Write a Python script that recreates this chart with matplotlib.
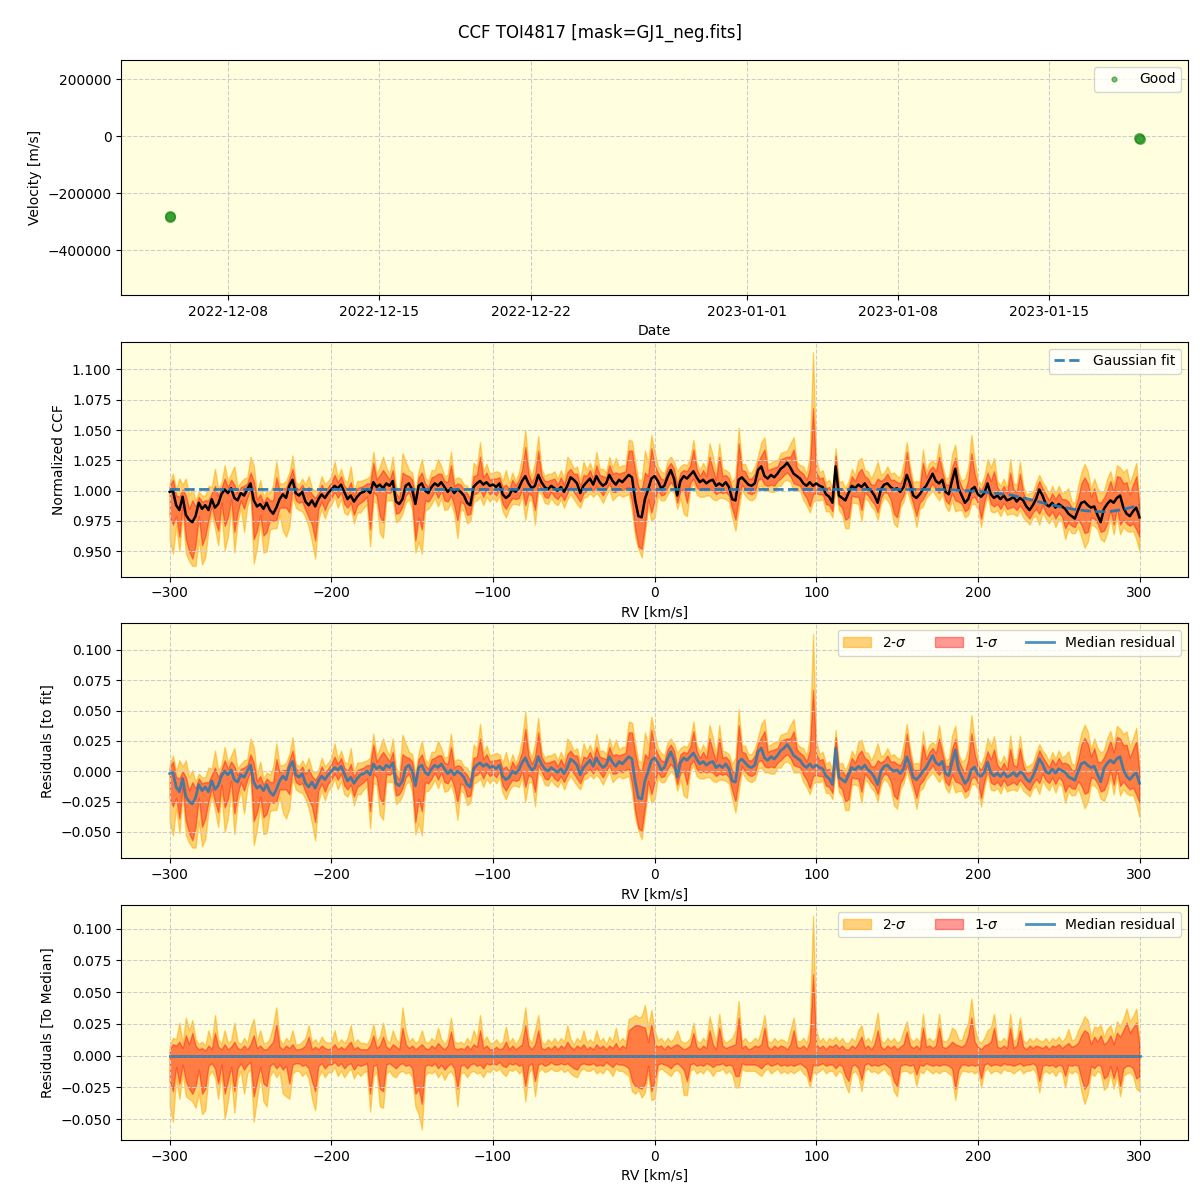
import numpy as np
import pandas as pd
import matplotlib
matplotlib.use("Agg")
import matplotlib.pyplot as plt

# observation epochs for the top panel
obs_dates = ["2022-12-05 07:00", "2022-12-05 07:20", "2023-01-19 04:00", "2023-01-19 04:20"]
obs_velocity = [-279500, -283000, -6000, -8000]

# CCF grid, km/s
rv_start, rv_stop, rv_step = -300, 300, 2

# median CCF across exposures
ccf_median = [
    0.999, 1.000, 0.988, 0.984, 0.995, 0.980, 0.976, 0.974, 0.979, 0.990,
    0.985, 0.988, 0.984, 0.993, 0.986, 0.989, 0.997, 1.001, 0.998, 1.002,
    0.994, 0.992, 0.998, 0.996, 1.001, 1.006, 0.992, 0.987, 0.989, 0.985,
    0.990, 0.984, 0.981, 0.986, 0.993, 0.997, 0.994, 1.004, 1.009, 0.998,
    0.996, 0.999, 0.991, 0.988, 0.992, 0.987, 0.993, 0.997, 0.994, 0.998,
    1.001, 1.004, 1.002, 1.005, 0.999, 0.993, 0.996, 0.991, 0.995, 0.998,
    0.999, 1.001, 0.998, 1.007, 1.003, 1.005, 1.002, 1.006, 1.004, 1.008,
    0.991, 0.989, 0.993, 1.004, 1.006, 1.001, 0.989, 1.004, 1.006, 1.000,
    0.998, 1.003, 1.006, 1.004, 1.007, 1.003, 0.999, 1.002, 0.998, 1.001,
    0.999, 0.996, 0.990, 0.988, 1.003, 1.006, 1.008, 1.005, 1.007, 1.004,
    1.005, 1.003, 1.006, 0.997, 0.994, 0.996, 1.001, 0.999, 1.002, 1.008,
    1.012, 1.006, 1.002, 1.004, 1.013, 1.007, 1.003, 1.001, 1.004, 1.002,
    1.000, 1.003, 0.999, 1.004, 1.011, 1.009, 1.006, 0.998, 1.004, 1.007,
    1.010, 1.005, 1.012, 1.007, 1.004, 1.006, 1.013, 1.008, 1.005, 1.009,
    1.007, 1.010, 1.013, 1.011, 0.992, 0.979, 0.978, 0.993, 1.001, 1.010,
    1.012, 1.008, 1.002, 1.004, 1.011, 1.017, 1.010, 0.996, 1.008, 1.012,
    1.010, 1.013, 1.016, 1.011, 1.007, 1.009, 1.006, 1.008, 1.009, 1.004,
    1.006, 1.004, 1.007, 1.003, 0.993, 0.992, 1.009, 1.011, 1.008, 1.005,
    1.004, 1.006, 1.017, 1.020, 1.012, 1.010, 1.013, 1.011, 1.014, 1.018,
    1.020, 1.023, 1.019, 1.014, 1.012, 1.010, 1.006, 1.004, 1.007, 1.004,
    1.006, 1.004, 1.003, 0.997, 0.995, 0.990, 1.020, 0.996, 0.994, 0.992,
    0.998, 1.004, 1.002, 1.005, 1.003, 1.006, 1.002, 1.000, 0.996, 0.990,
    1.001, 1.005, 1.006, 1.003, 1.001, 1.002, 0.999, 1.003, 1.013, 1.006,
    0.996, 0.994, 0.997, 1.001, 1.004, 1.009, 1.014, 1.008, 1.006, 1.009,
    0.999, 0.997, 1.008, 1.018, 1.002, 0.996, 0.990, 0.993, 1.001, 1.003,
    0.997, 0.995, 0.998, 1.006, 0.997, 0.994, 0.996, 0.993, 0.996, 0.992,
    0.993, 0.995, 0.991, 0.994, 0.992, 0.987, 0.984, 0.988, 0.993, 1.001,
    0.996, 0.989, 0.987, 0.990, 0.986, 0.989, 0.987, 0.985, 0.981, 0.979,
    0.977, 0.984, 0.990, 0.991, 0.988, 0.986, 0.987, 0.980, 0.974, 0.985,
    0.989, 0.992, 0.990, 0.994, 0.996, 0.986, 0.981, 0.979, 0.983, 0.986,
    0.978,
]

# distance of the percentile bands from the median
upper_1sig = [
    0.005, 0.009, 0.008, 0.011, 0.006, 0.016, 0.009, 0.018, 0.008, 0.005,
    0.006, 0.004, 0.008, 0.005, 0.018, 0.007, 0.005, 0.009, 0.005, 0.007,
    0.011, 0.006, 0.005, 0.008, 0.005, 0.009, 0.016, 0.006, 0.008, 0.005,
    0.005, 0.008, 0.011, 0.025, 0.007, 0.005, 0.008, 0.006, 0.009, 0.005,
    0.005, 0.006, 0.008, 0.015, 0.005, 0.007, 0.005, 0.008, 0.006, 0.005,
    0.006, 0.009, 0.005, 0.007, 0.005, 0.008, 0.011, 0.005, 0.007, 0.005,
    0.005, 0.005, 0.008, 0.016, 0.006, 0.008, 0.015, 0.007, 0.005, 0.009,
    0.007, 0.005, 0.022, 0.009, 0.006, 0.008, 0.005, 0.007, 0.009, 0.006,
    0.005, 0.008, 0.006, 0.010, 0.007, 0.005, 0.008, 0.019, 0.006, 0.005,
    0.006, 0.005, 0.008, 0.005, 0.009, 0.007, 0.020, 0.006, 0.008, 0.005,
    0.005, 0.007, 0.005, 0.006, 0.011, 0.005, 0.008, 0.005, 0.007, 0.009,
    0.024, 0.008, 0.005, 0.009, 0.020, 0.006, 0.005, 0.007, 0.005, 0.008,
    0.005, 0.008, 0.006, 0.011, 0.007, 0.005, 0.008, 0.006, 0.009, 0.005,
    0.007, 0.005, 0.009, 0.006, 0.008, 0.005, 0.008, 0.006, 0.010, 0.005,
    0.008, 0.006, 0.020, 0.022, 0.024, 0.024, 0.023, 0.022, 0.011, 0.025,
    0.009, 0.007, 0.008, 0.005, 0.008, 0.006, 0.008, 0.009, 0.007, 0.005,
    0.006, 0.008, 0.018, 0.007, 0.005, 0.008, 0.006, 0.020, 0.009, 0.005,
    0.022, 0.008, 0.006, 0.007, 0.008, 0.009, 0.030, 0.006, 0.008, 0.005,
    0.006, 0.008, 0.007, 0.009, 0.022, 0.007, 0.005, 0.008, 0.006, 0.008,
    0.007, 0.005, 0.009, 0.020, 0.007, 0.006, 0.008, 0.005, 0.011, 0.064,
    0.009, 0.006, 0.008, 0.005, 0.008, 0.007, 0.009, 0.006, 0.008, 0.005,
    0.005, 0.008, 0.006, 0.010, 0.015, 0.006, 0.008, 0.005, 0.009, 0.020,
    0.007, 0.005, 0.008, 0.006, 0.008, 0.005, 0.007, 0.009, 0.019, 0.008,
    0.006, 0.008, 0.005, 0.022, 0.007, 0.008, 0.006, 0.008, 0.022, 0.007,
    0.006, 0.008, 0.011, 0.009, 0.008, 0.007, 0.009, 0.016, 0.030, 0.011,
    0.007, 0.005, 0.008, 0.009, 0.011, 0.022, 0.007, 0.006, 0.008, 0.006,
    0.022, 0.006, 0.008, 0.020, 0.007, 0.005, 0.008, 0.006, 0.008, 0.007,
    0.006, 0.008, 0.005, 0.008, 0.007, 0.009, 0.006, 0.008, 0.010, 0.007,
    0.008, 0.010, 0.016, 0.020, 0.018, 0.009, 0.015, 0.011, 0.016, 0.009,
    0.011, 0.016, 0.009, 0.018, 0.015, 0.020, 0.026, 0.018, 0.022, 0.026,
    0.008,
]

upper_2sig = [
    0.008, 0.014, 0.013, 0.026, 0.010, 0.030, 0.020, 0.028, 0.013, 0.009,
    0.011, 0.008, 0.020, 0.010, 0.032, 0.013, 0.009, 0.020, 0.010, 0.012,
    0.026, 0.011, 0.009, 0.014, 0.010, 0.022, 0.029, 0.011, 0.020, 0.010,
    0.010, 0.014, 0.024, 0.038, 0.013, 0.009, 0.014, 0.011, 0.020, 0.009,
    0.009, 0.011, 0.014, 0.024, 0.010, 0.013, 0.009, 0.015, 0.011, 0.010,
    0.011, 0.020, 0.009, 0.013, 0.010, 0.014, 0.024, 0.009, 0.013, 0.010,
    0.010, 0.009, 0.014, 0.025, 0.011, 0.015, 0.026, 0.013, 0.010, 0.020,
    0.013, 0.010, 0.038, 0.020, 0.011, 0.014, 0.010, 0.012, 0.020, 0.011,
    0.010, 0.014, 0.011, 0.022, 0.013, 0.009, 0.014, 0.030, 0.011, 0.010,
    0.011, 0.009, 0.014, 0.010, 0.020, 0.013, 0.032, 0.011, 0.015, 0.010,
    0.010, 0.013, 0.009, 0.011, 0.023, 0.010, 0.014, 0.009, 0.013, 0.020,
    0.038, 0.014, 0.010, 0.020, 0.032, 0.011, 0.009, 0.013, 0.010, 0.014,
    0.010, 0.014, 0.011, 0.024, 0.013, 0.009, 0.014, 0.011, 0.020, 0.010,
    0.013, 0.010, 0.020, 0.011, 0.014, 0.009, 0.015, 0.011, 0.022, 0.010,
    0.014, 0.011, 0.029, 0.030, 0.032, 0.030, 0.031, 0.040, 0.022, 0.036,
    0.020, 0.012, 0.014, 0.010, 0.014, 0.011, 0.014, 0.020, 0.012, 0.010,
    0.011, 0.014, 0.026, 0.012, 0.010, 0.014, 0.011, 0.031, 0.020, 0.010,
    0.033, 0.014, 0.010, 0.012, 0.014, 0.020, 0.043, 0.011, 0.014, 0.010,
    0.011, 0.014, 0.012, 0.020, 0.032, 0.012, 0.010, 0.014, 0.011, 0.013,
    0.012, 0.010, 0.020, 0.030, 0.012, 0.011, 0.014, 0.010, 0.022, 0.110,
    0.020, 0.011, 0.014, 0.010, 0.014, 0.012, 0.015, 0.011, 0.014, 0.010,
    0.010, 0.014, 0.011, 0.020, 0.024, 0.011, 0.014, 0.010, 0.020, 0.034,
    0.012, 0.010, 0.014, 0.011, 0.014, 0.010, 0.012, 0.020, 0.027, 0.014,
    0.011, 0.014, 0.010, 0.033, 0.012, 0.014, 0.011, 0.014, 0.033, 0.012,
    0.011, 0.014, 0.022, 0.020, 0.013, 0.012, 0.020, 0.026, 0.045, 0.022,
    0.012, 0.010, 0.014, 0.020, 0.022, 0.033, 0.012, 0.011, 0.014, 0.011,
    0.033, 0.011, 0.014, 0.030, 0.012, 0.010, 0.014, 0.011, 0.014, 0.012,
    0.011, 0.014, 0.010, 0.014, 0.012, 0.015, 0.011, 0.014, 0.021, 0.012,
    0.013, 0.020, 0.025, 0.031, 0.028, 0.015, 0.023, 0.022, 0.024, 0.015,
    0.021, 0.024, 0.015, 0.027, 0.023, 0.029, 0.037, 0.027, 0.031, 0.037,
    0.013,
]

lower_1sig = [
    0.020, 0.028, 0.009, 0.022, 0.007, 0.020, 0.026, 0.030, 0.024, 0.011,
    0.030, 0.026, 0.008, 0.006, 0.010, 0.022, 0.007, 0.030, 0.020, 0.009,
    0.028, 0.010, 0.006, 0.011, 0.007, 0.005, 0.032, 0.020, 0.009, 0.022,
    0.024, 0.008, 0.006, 0.010, 0.007, 0.011, 0.008, 0.022, 0.007, 0.006,
    0.006, 0.008, 0.007, 0.010, 0.020, 0.028, 0.008, 0.006, 0.010, 0.007,
    0.007, 0.005, 0.008, 0.006, 0.010, 0.007, 0.006, 0.011, 0.007, 0.008,
    0.007, 0.006, 0.030, 0.008, 0.007, 0.026, 0.028, 0.007, 0.006, 0.008,
    0.010, 0.007, 0.006, 0.008, 0.007, 0.010, 0.030, 0.026, 0.038, 0.008,
    0.007, 0.008, 0.006, 0.010, 0.007, 0.011, 0.008, 0.006, 0.010, 0.026,
    0.008, 0.007, 0.010, 0.007, 0.006, 0.008, 0.007, 0.010, 0.006, 0.007,
    0.006, 0.007, 0.005, 0.008, 0.009, 0.006, 0.007, 0.006, 0.008, 0.007,
    0.024, 0.008, 0.006, 0.020, 0.007, 0.006, 0.008, 0.007, 0.005, 0.007,
    0.007, 0.006, 0.007, 0.006, 0.008, 0.010, 0.011, 0.007, 0.006, 0.007,
    0.007, 0.006, 0.008, 0.007, 0.008, 0.005, 0.007, 0.009, 0.006, 0.007,
    0.007, 0.008, 0.010, 0.020, 0.024, 0.025, 0.026, 0.022, 0.008, 0.028,
    0.020, 0.007, 0.006, 0.007, 0.008, 0.010, 0.007, 0.006, 0.008, 0.011,
    0.020, 0.007, 0.006, 0.008, 0.007, 0.008, 0.006, 0.007, 0.009, 0.007,
    0.007, 0.006, 0.008, 0.007, 0.008, 0.016, 0.016, 0.006, 0.007, 0.007,
    0.007, 0.007, 0.008, 0.010, 0.007, 0.006, 0.008, 0.007, 0.006, 0.008,
    0.007, 0.008, 0.007, 0.008, 0.007, 0.006, 0.008, 0.010, 0.020, 0.007,
    0.008, 0.007, 0.006, 0.008, 0.007, 0.007, 0.010, 0.007, 0.008, 0.016,
    0.020, 0.008, 0.007, 0.010, 0.019, 0.007, 0.006, 0.008, 0.007, 0.008,
    0.007, 0.006, 0.008, 0.010, 0.020, 0.024, 0.008, 0.007, 0.007, 0.008,
    0.007, 0.015, 0.007, 0.008, 0.006, 0.007, 0.008, 0.007, 0.008, 0.007,
    0.007, 0.008, 0.010, 0.026, 0.011, 0.007, 0.007, 0.008, 0.007, 0.008,
    0.007, 0.018, 0.007, 0.006, 0.008, 0.007, 0.007, 0.008, 0.006, 0.007,
    0.007, 0.008, 0.007, 0.006, 0.008, 0.007, 0.007, 0.006, 0.008, 0.020,
    0.008, 0.007, 0.008, 0.007, 0.009, 0.007, 0.008, 0.016, 0.007, 0.008,
    0.007, 0.008, 0.018, 0.026, 0.022, 0.008, 0.010, 0.007, 0.008, 0.018,
    0.016, 0.008, 0.018, 0.009, 0.024, 0.010, 0.008, 0.008, 0.010, 0.018,
    0.016,
]

lower_2sig = [
    0.040, 0.052, 0.017, 0.034, 0.014, 0.032, 0.034, 0.036, 0.041, 0.030,
    0.046, 0.043, 0.016, 0.012, 0.017, 0.034, 0.014, 0.050, 0.036, 0.017,
    0.045, 0.018, 0.012, 0.030, 0.014, 0.010, 0.052, 0.034, 0.016, 0.036,
    0.040, 0.016, 0.012, 0.017, 0.013, 0.030, 0.032, 0.034, 0.014, 0.012,
    0.012, 0.016, 0.013, 0.018, 0.034, 0.043, 0.017, 0.012, 0.017, 0.013,
    0.013, 0.009, 0.016, 0.012, 0.017, 0.013, 0.010, 0.018, 0.013, 0.016,
    0.013, 0.012, 0.044, 0.016, 0.013, 0.040, 0.041, 0.014, 0.012, 0.016,
    0.017, 0.013, 0.012, 0.014, 0.013, 0.017, 0.040, 0.046, 0.058, 0.016,
    0.013, 0.014, 0.012, 0.017, 0.013, 0.019, 0.014, 0.012, 0.017, 0.040,
    0.014, 0.013, 0.017, 0.013, 0.012, 0.014, 0.013, 0.017, 0.012, 0.013,
    0.010, 0.012, 0.010, 0.014, 0.016, 0.011, 0.012, 0.010, 0.014, 0.012,
    0.036, 0.014, 0.010, 0.032, 0.013, 0.010, 0.013, 0.012, 0.010, 0.012,
    0.012, 0.010, 0.013, 0.011, 0.014, 0.016, 0.017, 0.012, 0.010, 0.012,
    0.012, 0.010, 0.014, 0.012, 0.014, 0.010, 0.012, 0.016, 0.010, 0.012,
    0.012, 0.014, 0.016, 0.028, 0.030, 0.027, 0.033, 0.029, 0.014, 0.035,
    0.034, 0.012, 0.010, 0.012, 0.014, 0.016, 0.012, 0.011, 0.014, 0.031,
    0.031, 0.012, 0.010, 0.014, 0.012, 0.014, 0.010, 0.012, 0.016, 0.012,
    0.012, 0.010, 0.014, 0.012, 0.015, 0.025, 0.025, 0.010, 0.012, 0.012,
    0.012, 0.012, 0.014, 0.016, 0.012, 0.010, 0.014, 0.012, 0.010, 0.014,
    0.012, 0.014, 0.012, 0.014, 0.012, 0.010, 0.014, 0.016, 0.025, 0.013,
    0.014, 0.012, 0.010, 0.014, 0.012, 0.012, 0.016, 0.012, 0.014, 0.023,
    0.029, 0.014, 0.012, 0.016, 0.028, 0.012, 0.010, 0.013, 0.012, 0.014,
    0.012, 0.010, 0.014, 0.016, 0.028, 0.032, 0.013, 0.012, 0.012, 0.014,
    0.012, 0.024, 0.012, 0.014, 0.010, 0.012, 0.014, 0.012, 0.014, 0.012,
    0.012, 0.014, 0.016, 0.035, 0.018, 0.012, 0.012, 0.013, 0.012, 0.014,
    0.012, 0.025, 0.012, 0.010, 0.014, 0.012, 0.012, 0.014, 0.010, 0.012,
    0.012, 0.014, 0.012, 0.010, 0.014, 0.012, 0.012, 0.010, 0.014, 0.029,
    0.014, 0.012, 0.014, 0.012, 0.016, 0.012, 0.013, 0.025, 0.012, 0.014,
    0.012, 0.014, 0.028, 0.038, 0.030, 0.014, 0.016, 0.012, 0.014, 0.027,
    0.024, 0.014, 0.026, 0.015, 0.032, 0.016, 0.014, 0.013, 0.016, 0.026,
    0.028,
]

# Gaussian fit: flat from -300 to 176 km/s, then the shallow wing out to 300
fit_flat = [1.001] * 239
fit_wing = [
    1.0009, 1.0008, 1.0007, 1.0006, 1.0005, 1.0004, 1.0003, 1.0001, 0.9999, 0.9997,
    0.9996, 0.9995, 0.9992, 0.9989, 0.9986, 0.9983, 0.9980, 0.9977, 0.9974, 0.9971,
    0.9968, 0.9965, 0.9959, 0.9953, 0.9947, 0.9941, 0.9935, 0.9928, 0.9921, 0.9914,
    0.9907, 0.9900, 0.9894, 0.9888, 0.9882, 0.9876, 0.9870, 0.9865, 0.9860, 0.9855,
    0.9850, 0.9845, 0.9842, 0.9839, 0.9836, 0.9833, 0.9830, 0.9829, 0.9828, 0.9827,
    0.9826, 0.9825, 0.9829, 0.9833, 0.9837, 0.9841, 0.9845, 0.9852, 0.9859, 0.9866,
    0.9873, 0.9880,
]


def style_axis(ax):
    ax.set_facecolor("lightyellow")
    ax.grid(True, linestyle="--", color="0.8", linewidth=0.8)


def draw_bands(ax, rv, lo2, lo1, hi1, hi2, line, line_kw):
    ax.fill_between(rv, lo2, hi2, color="orange", alpha=0.5, label="2-$\\sigma$")
    ax.fill_between(rv, lo1, hi1, color="red", alpha=0.4, label="1-$\\sigma$")
    ax.plot(rv, line, **line_kw)


def main():
    rv = np.arange(rv_start, rv_stop + rv_step, rv_step)
    med = np.array(ccf_median)
    hi1 = med + np.array(upper_1sig)
    hi2 = med + np.array(upper_2sig)
    lo1 = med - np.array(lower_1sig)
    lo2 = med - np.array(lower_2sig)
    fit = np.array(fit_flat + fit_wing)

    fig, axs = plt.subplots(nrows=4, figsize=(12, 12), dpi=100)
    fig.subplots_adjust(left=0.101, right=0.99, top=0.95, bottom=0.05, hspace=0.2)
    fig.suptitle("CCF TOI4817 [mask=GJ1_neg.fits]", fontsize=12)

    # velocities per epoch
    ax = axs[0]
    style_axis(ax)
    ax.plot(pd.to_datetime(obs_dates), obs_velocity, "o", color="green", alpha=0.5,
            markersize=7, label="Good")
    ax.set_ylim(-557000, 268000)
    ax.set_xlabel("Date")
    ax.set_ylabel("Velocity [m/s]")
    ax.legend(loc="upper right", markerscale=0.5)

    # normalized CCF
    ax = axs[1]
    style_axis(ax)
    draw_bands(ax, rv, lo2, lo1, hi1, hi2, med, dict(color="black", linewidth=1.8))
    ax.plot(rv, fit, "--", color="C0", linewidth=2, alpha=0.9, label="Gaussian fit")
    ax.set_xlabel("RV [km/s]")
    ax.set_ylabel("Normalized CCF")
    handles, labels = ax.get_legend_handles_labels()
    ax.legend([handles[-1]], [labels[-1]], loc="upper right")

    # residuals to fit
    ax = axs[2]
    style_axis(ax)
    draw_bands(ax, rv, lo2 - fit, lo1 - fit, hi1 - fit, hi2 - fit, med - fit,
               dict(color="C0", linewidth=2, alpha=0.8, label="Median residual"))
    ax.set_xlabel("RV [km/s]")
    ax.set_ylabel("Residuals [to fit]")
    ax.legend(loc="upper right", ncol=3)

    # residuals to median
    ax = axs[3]
    style_axis(ax)
    draw_bands(ax, rv, lo2 - med, lo1 - med, hi1 - med, hi2 - med, med - med,
               dict(color="C0", linewidth=2, alpha=0.8, label="Median residual"))
    ax.set_xlabel("RV [km/s]")
    ax.set_ylabel("Residuals [To Median]")
    ax.legend(loc="upper right", ncol=3)

    fig.savefig("out.png", dpi=100)


if __name__ == "__main__":
    main()
